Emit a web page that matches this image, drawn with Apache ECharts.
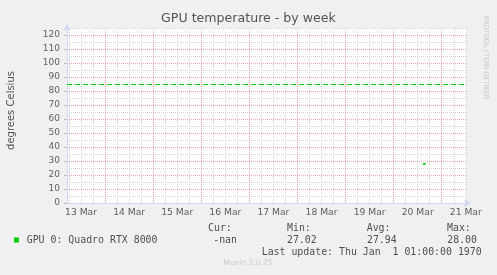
<!DOCTYPE html>
<html>
<head>
<meta charset="utf-8">
<script src="https://cdn.jsdelivr.net/npm/echarts@6/dist/echarts.min.js"></script>
<style>
html,body{margin:0;padding:0;background:#f0f0f0;}
#c{width:497px;height:275px;}
</style>
</head>
<body>
<div id="c"></div>
<script>
// ---- data (x in hours since 13 Mar 00:00) ----
const dayLabels = ['13 Mar','14 Mar','15 Mar','16 Mar','17 Mar','18 Mar','19 Mar','20 Mar','21 Mar'];
const startHour = 5;
const endHour = 204.6;
const sampleHours = [182.5, 183.0, 183.5, 184.0];
const sampleTemps = [27.9, 28.0, 28.0, 27.9];
const warningLevel = 85;
const yTicks = [0, 125];
const seriesName = 'GPU 0: Quadro RTX 8000';
const statLabels = ['Cur:', 'Min:', 'Avg:', 'Max:'];
const statValues = ['-nan', '27.02', '27.94', '28.00'];
const lastUpdate = 'Last update: Thu Jan  1 01:00:00 1970';

const GREEN = '#00cc00';
const AXIS = '#cfd6f8';
const FONT = '#606060';
const MAJOR = '#eca4a4';
const MINOR = '#d2d2d2';
const SANS = 'DejaVu Sans';
const MONO = 'DejaVu Sans Mono';

const hourColors = [];
for (let i = 0; i < 24; i++) {
  const h = (startHour + i) % 24;
  hourColors.push(h === 0 ? MAJOR : (h % 6 === 0 ? MINOR : 'rgba(0,0,0,0)'));
}

const chart = echarts.init(document.getElementById('c'), null, {renderer: 'canvas'});

const graphics = [
  {type:'text', style:{x:248.5, y:18.5, text:'GPU temperature - by week', font:'12.6px "'+SANS+'"', fill:'#555', textAlign:'center', textVerticalAlign:'middle'}},
  {type:'text', rotation: Math.PI/2, x:11, y:110.5, style:{x:0, y:0, text:'degrees Celsius', font:'10px "'+SANS+'"', fill:'#555', textAlign:'center', textVerticalAlign:'middle'}},
  {type:'text', rotation: -Math.PI/2, x:486, y:57.5, style:{x:0, y:0, text:'RRDTOOL / TOBI OETIKER', font:'6.5px "'+SANS+'"', fill:'#c4c4c4', textAlign:'center', textVerticalAlign:'middle'}},
  {type:'rect', shape:{x:14, y:237.5, width:5, height:5}, style:{fill:GREEN}},
  {type:'text', style:{x:26.7, y:240.3, text:seriesName, font:'9.9px "'+MONO+'"', fill:'#505050', textAlign:'left', textVerticalAlign:'middle'}},
  {type:'text', style:{x:261.7, y:252.5, text:lastUpdate, font:'9.9px "'+MONO+'"', fill:'#505050', textAlign:'left', textVerticalAlign:'middle'}},
  {type:'text', style:{x:248, y:263.5, text:'Munin 2.0.75', font:'7.5px "'+SANS+'"', fill:'#c8c8c8', textAlign:'center', textVerticalAlign:'middle'}}
];
const colLeft = [208, 287, 366.7, 447];
const valRight = [237, 316.7, 396.7, 477];
statLabels.forEach((s, i) => {
  graphics.push({type:'text', style:{x:colLeft[i], y:228, text:s, font:'9.9px "'+MONO+'"', fill:'#505050', textAlign:'left', textVerticalAlign:'middle'}});
  graphics.push({type:'text', style:{x:valRight[i], y:240.3, text:statValues[i], font:'9.9px "'+MONO+'"', fill:'#505050', textAlign:'right', textVerticalAlign:'middle'}});
});

chart.setOption({
  animation: false,
  backgroundColor: '#f0f0f0',
  grid: {left: 67, top: 28, width: 400, height: 175, show: true, backgroundColor: '#ffffff', borderWidth: 0, containLabel: false},
  xAxis: {
    type: 'value', min: startHour, max: endHour, interval: 1,
    axisLine: {show: true, lineStyle: {color: AXIS, width: 1}, symbol: ['none', 'arrow'], symbolSize: [6, 7], symbolOffset: [0, 4]},
    axisTick: {show: false},
    axisLabel: {
      color: FONT, fontFamily: SANS, fontSize: 9.2, margin: 5,
      formatter: v => (v % 24 === 12 ? dayLabels[(v - 12) / 24] : '')
    },
    splitLine: {show: true, lineStyle: {type: [1, 1], color: hourColors, width: 1}}
  },
  yAxis: [
    {
      type: 'value', min: yTicks[0], max: yTicks[1], interval: 5,
      axisLine: {show: true, lineStyle: {color: AXIS, width: 1}, symbol: ['none', 'arrow'], symbolSize: [6, 7], symbolOffset: [0, 4]},
      axisTick: {show: false},
      axisLabel: {show: false},
      splitLine: {show: true, lineStyle: {type: [1, 1], color: [MAJOR, MINOR], width: 1}}
    },
    {
      type: 'value', min: yTicks[0], max: yTicks[1], interval: 10, position: 'left',
      axisLine: {show: false},
      axisTick: {show: true, length: 3, lineStyle: {color: '#bbbbbb'}},
      axisLabel: {color: FONT, fontFamily: SANS, fontSize: 9, margin: 7, showMaxLabel: false,
        formatter: v => (v % 10 === 0 ? String(v) : '')},
      splitLine: {show: false}
    }
  ],
  series: [{
    name: seriesName,
    type: 'line',
    xAxisIndex: 0, yAxisIndex: 0,
    data: sampleHours.map((h, i) => [h, sampleTemps[i]]),
    showSymbol: false,
    lineStyle: {color: GREEN, width: 1.6},
    itemStyle: {color: GREEN},
    markLine: {
      silent: true, symbol: 'none', label: {show: false},
      lineStyle: {color: GREEN, type: [5, 3], width: 1.2},
      data: [{yAxis: warningLevel}]
    }
  }],
  graphic: graphics
});
</script>
</body>
</html>
